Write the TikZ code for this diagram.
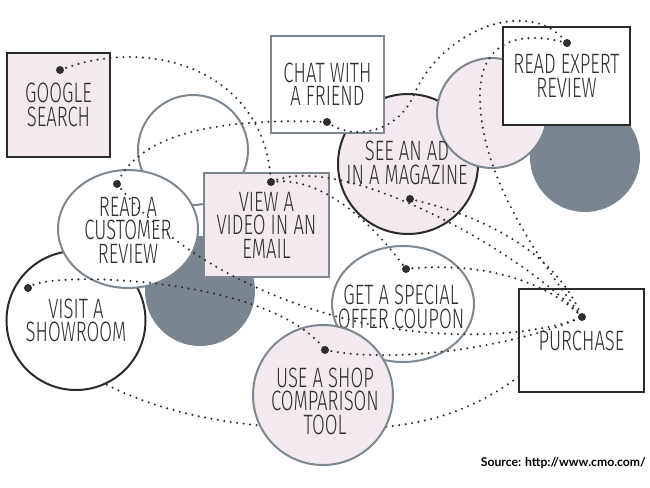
\documentclass[tikz,border=0pt]{standalone}
\usepackage{fontspec}
\usetikzlibrary{shapes.geometric}
\newfontfamily\labfont{Fira Sans Light}[FakeStretch=0.66]
\newfontfamily\srcfont{Lato}
\definecolor{pinkf}{HTML}{F2EAEF}
\definecolor{greyb}{HTML}{7D8790}
\definecolor{darkf}{HTML}{7B858F}
\definecolor{darkb}{HTML}{2B2B2B}
\definecolor{txt}{HTML}{2E2E2E}
\tikzset{
  lab/.style={font=\labfont\fontsize{28}{23.5}\selectfont, text=txt, align=center, inner sep=0pt},
  darkbox/.style={rectangle, draw=darkb, line width=2pt, inner sep=0pt, lab},
  greybox/.style={rectangle, draw=greyb, line width=2pt, inner sep=0pt, lab},
  greyring/.style={circle, draw=greyb, line width=2pt, inner sep=0pt, lab},
  darkring/.style={circle, draw=darkb, line width=2pt, inner sep=0pt, lab},
  greyoval/.style={ellipse, draw=greyb, line width=2pt, fill=white, inner sep=0pt},
  darkdisc/.style={circle, fill=darkf, inner sep=0pt},
  dotline/.style={draw=txt, line width=2.3pt, line cap=round, dash pattern=on 0pt off 6.5pt},
  dotmark/.style={circle, fill=txt, inner sep=0pt, minimum size=8pt}
}
\begin{document}
\begin{tikzpicture}[x=1pt,y=-1pt]
\useasboundingbox (0,0) rectangle (650,487);
% dot positions
\coordinate (gdot) at (60,70);
\coordinate (cdot) at (327,122);
\coordinate (edot) at (567,43);
\coordinate (vdot) at (271,182);
\coordinate (rdot) at (117,184);
\coordinate (mdot) at (410,199);
\coordinate (sdot) at (28,288);
\coordinate (kdot) at (406,269);
\coordinate (tdot) at (325,350);
\coordinate (pdot) at (582,317);
% hidden connector (behind shapes)
\draw[dotline] (sdot) .. controls (40,390) and (200,430) .. (323,428)
  .. controls (430,432) and (500,410) .. (pdot);
% background discs
\node[greyring, fill=white, minimum size=110pt] (whitec) at (193,150) {};
\node[darkdisc, minimum size=110pt] (darkl) at (200,291) {};
\node[darkdisc, minimum size=110pt] (darkr) at (585,157) {};
% shapes
\node[darkring, fill=white, minimum size=139pt] (showroom) at (76,320.5) {VISIT A\\SHOWROOM};
\node[greyoval, minimum width=140pt, minimum height=118pt] (review) at (128,229) {};
\node[lab] (reviewtext) at (128,230) {READ A\\CUSTOMER\\REVIEW};
\node[darkbox, fill=pinkf, minimum width=103pt, minimum height=104pt] (google) at (58.5,105) {GOOGLE\\SEARCH};
\node[greybox, fill=pinkf, minimum width=125pt, minimum height=104pt] (video) at (266.5,225) {VIEW A\\VIDEO IN AN\\EMAIL};
\node[darkring, fill=pinkf, minimum size=140pt] (magazine) at (408,164) {};
\node[greybox, fill=white, minimum width=113pt, minimum height=97pt] (chat) at (327.5,84.5) {CHAT WITH\\A FRIEND};
\node[greyring, fill=pinkf, minimum size=110pt] (pinkc) at (492,113) {};
\node[darkbox, fill=white, minimum width=127pt, minimum height=98pt] (expert) at (566.5,76) {READ EXPERT\\REVIEW};
\node[lab] (magtext) at (407,163) {SEE AN AD\\IN A MAGAZINE};
\node[greyoval, minimum width=142pt, minimum height=116pt] (coupon) at (403,304) {};
\node[lab] (coupontext) at (401,307) {GET A SPECIAL\\OFFER COUPON};
\node[greyring, fill=pinkf, minimum size=140pt] (shop) at (323,395) {};
\node[lab] (shoptext) at (325,401) {USE A SHOP\\COMPARISON\\TOOL};
\node[darkbox, fill=white, minimum width=125pt, minimum height=103pt] (purchase) at (581.5,340.5) {PURCHASE};
% connectors
\draw[dotline] (gdot) .. controls (150,35) and (265,70) .. (vdot);
\draw[dotline] (cdot) .. controls (230,118) and (140,130) .. (rdot);
\draw[dotline] (cdot) .. controls (350,140) and (395,135) .. (413,97)
  .. controls (440,30) and (530,-5) .. (edot);
\draw[dotline] (edot) .. controls (520,30) and (478,40) .. (480,100)
  .. controls (482,180) and (540,260) .. (pdot);
\draw[dotline] (vdot) .. controls (340,150) and (520,250) .. (pdot);
\draw[dotline] (vdot) .. controls (320,175) and (370,220) .. (kdot);
\draw[dotline] (mdot) .. controls (480,215) and (555,250) .. (pdot);
\draw[dotline] (kdot) .. controls (470,262) and (540,275) .. (pdot);
\draw[dotline] (rdot) .. controls (170,250) and (260,300) .. (363,323)
  .. controls (450,342) and (540,335) .. (pdot);
\draw[dotline] (sdot) .. controls (40,270) and (270,275) .. (tdot);
\draw[dotline] (tdot) .. controls (400,365) and (520,345) .. (pdot);
% dot marks
\foreach \d in {gdot,cdot,edot,vdot,rdot,mdot,sdot,kdot,tdot,pdot}
  \node[dotmark] (m-\d) at (\d) {};
% source
\node[anchor=east, inner sep=0pt, font=\srcfont\bfseries\fontsize{12.2}{14}\selectfont] (source) at (646,463) {Source: http://www.cmo.com/};
\end{tikzpicture}
\end{document}
